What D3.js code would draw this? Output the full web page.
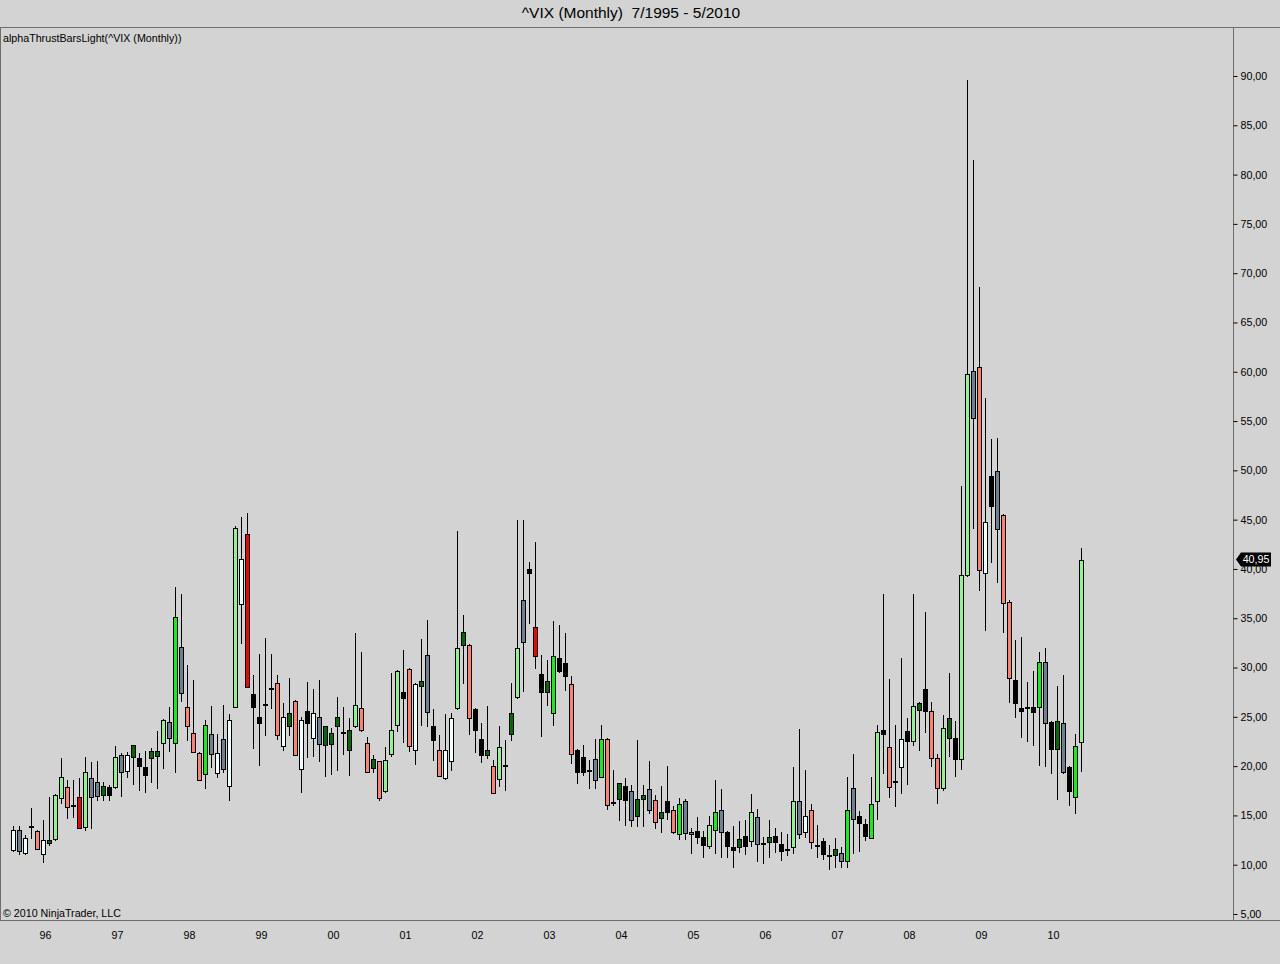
<!DOCTYPE html>
<html><head><meta charset="utf-8">
<script src="https://cdn.jsdelivr.net/npm/d3@7/dist/d3.min.js"></script>
<style>
body{margin:0;background:#d3d3d3;}
svg{display:block;font-family:"Liberation Sans",Arial,sans-serif;}
</style>
</head><body>
<svg id="chart" width="1280" height="964"></svg>
<script>
// ---- data (monthly ^VIX, 7/1995 .. 5/2010) ----
const open = [11.5,13.5,11.2,13.9,13.4,11.1,12.2,12.6,16.8,17.9,16.1,16.9,13.8,18.8,18.4,17.1,17.9,17.9,21.1,19.5,20.9,20.8,19.9,20.8,21.0,22.3,24.5,22.3,32.1,26.0,
23.4,21.3,19.2,23.3,19.3,22.8,18.0,26.0,36.4,43.5,27.3,25.0,26.3,27.9,28.4,22.0,24.1,26.6,19.7,25.6,22.9,25.0,22.1,22.2,24.1,23.5,21.6,24.1,25.9,22.3,
19.8,20.5,17.5,21.2,24.2,27.5,29.9,21.6,28.1,31.3,24.1,21.6,18.8,20.5,25.9,32.3,32.3,25.8,22.7,21.1,20.0,18.7,20.1,23.3,27.0,36.9,40.0,34.1,29.3,27.5,
25.4,31.0,30.5,28.3,21.6,20.9,19.6,20.7,18.9,22.8,16.4,16.7,18.0,17.5,14.9,16.7,17.7,16.6,14.7,16.5,15.5,13.1,16.5,13.3,13.4,12.8,11.9,13.5,15.5,13.3,
11.8,11.8,12.9,12.4,14.8,12.2,12.3,12.9,12.1,11.6,11.8,16.5,13.3,15.5,12.0,12.4,11.0,11.0,11.2,10.4,17.8,14.9,14.1,12.7,16.5,23.7,21.9,18.5,19.9,23.6,
22.5,25.7,27.8,25.6,20.8,17.8,24.9,22.9,20.7,39.4,60.1,60.5,39.6,49.4,49.9,45.5,36.6,28.7,25.9,26.0,26.0,26.0,30.6,24.5,21.7,24.4,19.9,16.9,22.4];
const high = [13.9,13.9,13.0,15.8,13.5,14.5,16.9,17.2,20.8,18.6,18.6,18.8,20.9,20.4,20.5,18.4,18.1,22.0,21.3,21.4,22.1,21.3,21.5,21.8,23.6,24.8,26.0,38.2,37.5,30.3,
28.7,21.4,24.7,26.1,23.3,26.2,25.3,44.4,45.3,45.7,29.2,31.4,33.0,31.4,29.2,26.4,28.9,26.7,25.0,28.5,27.8,28.7,24.1,23.9,27.0,26.0,24.9,33.5,31.6,23.0,
21.1,20.5,21.9,29.4,29.7,31.8,30.0,28.4,32.9,34.8,25.8,23.2,25.3,25.4,43.8,35.3,32.4,25.9,24.4,26.1,20.6,24.1,22.6,28.4,45.0,45.0,40.7,42.7,31.3,30.8,
34.7,34.3,33.5,29.1,21.7,22.1,20.6,22.7,24.2,22.9,19.6,18.3,18.8,18.1,22.6,18.1,20.5,17.1,18.0,20.0,16.0,16.8,16.7,13.7,14.8,13.4,14.9,18.6,17.7,13.4,
13.9,14.4,14.5,17.2,15.6,12.8,14.5,13.7,13.3,13.1,19.9,23.8,19.6,16.2,14.0,12.7,12.0,12.7,11.8,18.9,21.2,15.4,14.6,18.9,24.2,37.5,28.8,24.2,31.0,24.9,
37.5,26.5,35.6,26.5,21.2,25.2,29.4,24.6,48.4,89.6,81.5,68.6,57.3,53.2,53.3,45.6,36.9,32.8,33.1,28.5,29.6,31.6,32.0,24.6,28.1,29.2,20.0,23.3,42.1];
const low = [11.4,11.1,11.1,12.7,11.6,10.3,12.0,12.5,16.3,14.7,14.8,13.7,13.5,13.7,16.6,16.6,16.6,17.8,17.0,18.9,18.2,17.6,17.4,18.4,17.8,19.8,21.5,19.4,26.6,22.6,
21.4,18.6,17.8,19.9,18.9,19.4,16.6,26.0,32.5,28.0,21.8,20.1,23.2,25.9,22.7,21.6,23.2,21.1,17.4,20.9,21.0,20.5,19.0,19.2,19.6,21.2,19.1,24.0,23.6,19.4,
19.4,16.6,17.4,21.0,23.6,22.4,21.5,20.2,24.2,24.1,20.6,19.0,18.7,19.6,25.8,28.4,23.3,21.4,20.4,20.8,17.3,18.0,17.6,22.6,26.9,27.6,34.5,30.0,23.1,26.2,
24.2,29.5,27.7,20.3,18.3,19.1,17.8,17.8,18.9,15.7,16.1,14.5,14.0,13.9,13.9,13.9,15.2,13.7,13.3,14.6,13.2,12.6,12.6,11.2,12.2,10.8,11.7,11.2,10.8,10.8,
9.8,11.3,11.1,11.9,10.4,10.2,10.8,11.3,10.5,11.0,11.2,12.7,12.8,11.7,10.8,10.6,9.6,9.8,9.8,9.8,11.2,11.4,12.5,12.7,14.6,19.3,16.9,16.0,17.3,18.2,
22.1,21.6,23.5,20.0,16.3,17.6,21.0,19.0,19.7,39.3,44.2,37.9,33.8,40.7,38.7,33.6,26.5,25.0,23.0,22.5,22.1,20.1,20.0,19.3,16.7,19.3,16.1,15.2,19.5];
const close = [13.5,11.4,12.7,13.8,11.6,12.5,12.5,17.1,18.9,15.9,16.0,13.7,19.4,16.9,17.0,18.0,17.1,20.9,19.4,21.1,22.1,20.0,19.1,21.5,21.5,24.7,22.9,35.1,27.4,24.1,
21.4,18.6,24.2,21.2,21.3,19.7,24.7,44.2,41.0,28.0,26.0,24.4,26.2,27.8,23.2,25.0,25.4,21.1,24.7,24.4,25.4,22.2,24.1,23.4,25.0,23.4,23.7,26.2,23.7,19.4,
20.7,16.8,20.6,23.7,29.6,26.9,22.0,28.3,28.6,25.5,22.6,19.0,21.6,24.9,32.0,33.6,24.9,23.7,21.1,21.6,17.3,21.9,20.0,25.4,32.0,32.6,39.6,31.2,27.5,28.6,
31.2,29.6,29.1,21.2,19.4,19.4,19.5,18.6,22.8,16.1,16.3,18.3,16.6,14.5,16.7,17.1,15.5,14.3,15.3,15.3,13.3,16.2,13.2,13.1,12.8,12.0,14.0,15.3,13.3,11.9,
11.5,12.6,11.9,15.3,12.1,12.1,12.8,12.3,11.4,11.6,16.5,13.1,14.9,12.3,12.0,11.1,10.9,11.6,10.4,15.5,14.6,14.2,12.9,16.2,23.5,23.3,17.9,18.4,22.8,22.5,
26.1,26.4,25.6,20.8,17.8,23.9,22.9,20.7,39.4,59.8,55.3,39.9,44.8,46.4,44.1,36.5,28.9,26.4,25.6,25.9,25.5,30.6,24.4,21.7,24.6,19.4,17.5,22.0,40.95];
// bar shading of the alphaThrust indicator
const barColor = ["W","G","W","K","S","W","D","L","L","S","K","R","L","G","G","D","K","L","G","W","D","K","K","D","D","L","G","M","G","S",
"S","S","M","G","W","G","W","L","W","R","K","K","K","K","S","W","D","S","W","K","W","G","D","D","D","K","D","L","S","S",
"D","S","L","L","L","K","S","W","D","G","K","S","W","W","L","D","S","K","K","D","S","L","K","D","L","G","K","R","K","D",
"M","K","K","S","K","K","K","G","M","S","K","D","K","G","D","D","G","S","D","K","S","M","G","G","K","K","L","M","G","K",
"K","D","K","L","G","K","D","K","K","K","L","G","W","S","K","K","K","D","G","M","G","K","K","M","L","K","S","K","W","K",
"L","D","K","S","S","L","D","K","L","L","G","S","W","K","G","S","S","K","K","K","K","M","G","K","D","G","K","M","L"];
const yTicks = [5,10,15,20,25,30,35,40,45,50,55,60,65,70,75,80,85,90];
const yearLabels = ["96","97","98","99","00","01","02","03","04","05","06","07","08","09","10"];
const yearFirstBar = [6,18,30,42,54,66,78,90,102,114,126,138,150,162,174];
const chartTitle = "^VIX (Monthly)  7/1995 - 5/2010";
const indicatorName = "alphaThrustBarsLight(^VIX (Monthly))";
const copyright = "\u00a9 2010 NinjaTrader, LLC";

const palette = {W:"#f0ffff", G:"#708090", K:"#000000", S:"#f58475", R:"#e00a0a", D:"#0e620e", L:"#96ee96", M:"#22e622"};

const svg = d3.select("#chart");
const W = 1280, H = 964, plotR = 1233, plotT = 28, plotB = 920;
const fmt = v => d3.format(".2f")(v).replace(".", ",");
const FS = 10.7;

svg.append("rect").attr("width", W).attr("height", H).attr("fill", "#d3d3d3");

const x = d3.scaleLinear().domain([0, 178]).range([13.5, 1081.5]);
const y = d3.scaleLinear().domain([5, 90]).range([914, 76]);
const snap = v => Math.round(v) + 0.5;

// frame
svg.append("line").attr("x1", 0).attr("x2", W).attr("y1", plotT - 0.5).attr("y2", plotT - 0.5).attr("stroke", "#6e6e6e");
svg.append("line").attr("x1", 0).attr("x2", W).attr("y1", plotB + 0.5).attr("y2", plotB + 0.5).attr("stroke", "#6e6e6e");
svg.append("line").attr("x1", plotR + 0.5).attr("x2", plotR + 0.5).attr("y1", plotT).attr("y2", plotB).attr("stroke", "#6e6e6e");
svg.append("line").attr("x1", 0.5).attr("x2", 0.5).attr("y1", plotT).attr("y2", plotB).attr("stroke", "#6e6e6e");

// title
svg.append("text").attr("x", 631).attr("y", 18).attr("text-anchor", "middle")
  .attr("font-size", 15.5).style("white-space", "pre").attr("fill", "#000").text(chartTitle);
svg.append("text").attr("x", 3).attr("y", 42).attr("font-size", FS).attr("fill", "#000").text(indicatorName);
svg.append("text").attr("x", 3).attr("y", 917).attr("font-size", FS).attr("fill", "#000").text(copyright);

// right axis
const yAxis = d3.axisRight(y).tickValues(yTicks).tickFormat(fmt).tickSize(4).tickPadding(3);
const ya = svg.append("g").attr("transform", `translate(${plotR + 0.5},0)`).call(yAxis);
ya.select(".domain").remove();
ya.selectAll("line").attr("stroke", "#000");
ya.selectAll("text").attr("font-size", FS).attr("fill", "#000").attr("font-family", "Liberation Sans, Arial, sans-serif");

// bottom axis (years)
const xa = svg.append("g");
xa.selectAll("text").data(yearLabels).join("text")
  .attr("x", (d, i) => x(yearFirstBar[i]) - 4).attr("y", 939).attr("text-anchor", "middle")
  .attr("font-size", FS).attr("fill", "#000").text(d => d);

// candles
const idx = d3.range(open.length);
const g = svg.append("g");
g.selectAll("line.wick").data(idx).join("line").attr("class", "wick")
  .attr("x1", i => x(i)).attr("x2", i => x(i))
  .attr("y1", i => Math.round(y(high[i]))).attr("y2", i => Math.round(y(low[i])) + 1)
  .attr("stroke", "#000").attr("stroke-width", 1);
g.selectAll("rect.body").data(idx).join("rect").attr("class", "body")
  .attr("x", i => x(i) - 2).attr("width", 4)
  .attr("y", i => snap(y(Math.max(open[i], close[i]))))
  .attr("height", i => Math.max(1, Math.round(y(Math.min(open[i], close[i]))) - Math.round(y(Math.max(open[i], close[i])))))
  .attr("fill", i => palette[barColor[i]]).attr("stroke", "#000").attr("stroke-width", 1);

// last price marker
const last = close[close.length - 1];
const ly = y(last);
svg.append("path")
  .attr("d", `M${plotR + 3},${ly} L${plotR + 8},${ly - 7} L${plotR + 38},${ly - 7} L${plotR + 38},${ly + 7} L${plotR + 8},${ly + 7} Z`)
  .attr("fill", "#000");
svg.append("text").attr("x", plotR + 23).attr("y", ly + 3.5).attr("text-anchor", "middle")
  .attr("font-size", FS).attr("fill", "#fff").text(fmt(last));
</script>
</body></html>
